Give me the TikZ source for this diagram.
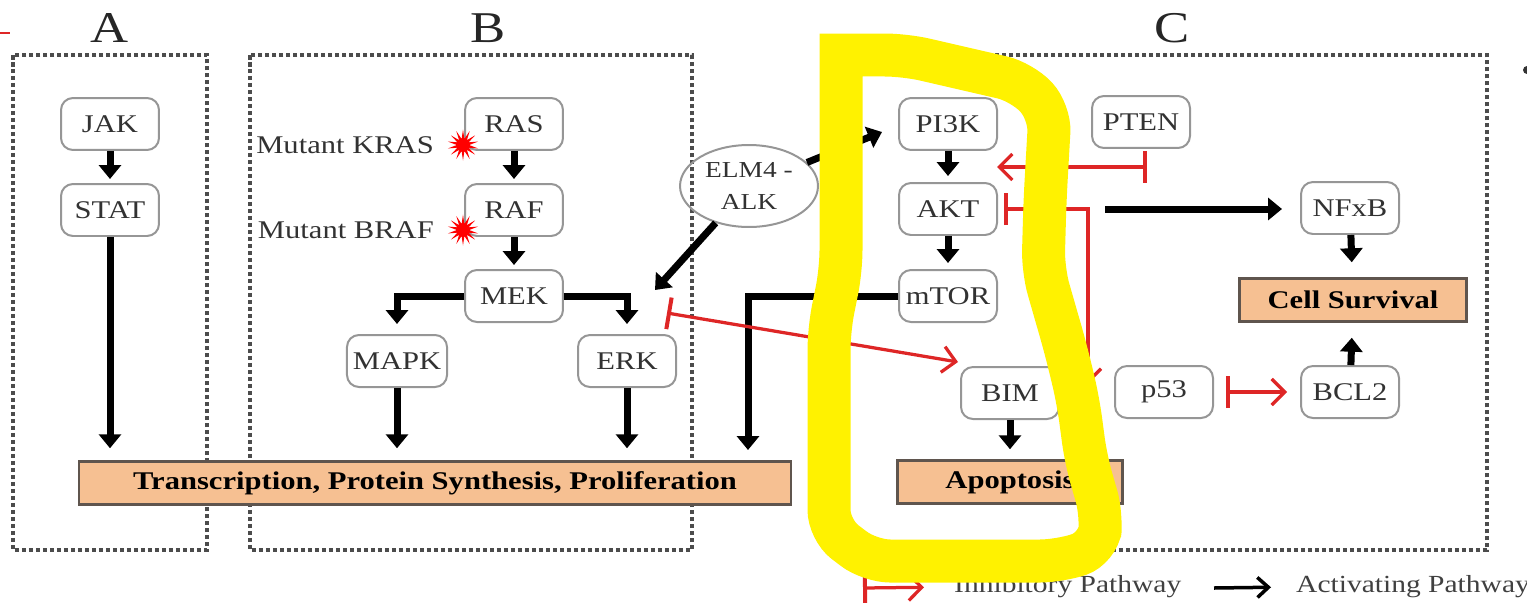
\documentclass[tikz,border=0pt]{standalone}
\usepackage{fontspec}
\setmainfont{Liberation Serif}[FakeStretch=1.2]
\usepackage{tikz}
\usetikzlibrary{arrows.meta}
\usetikzlibrary{calc}
\usetikzlibrary{shapes.geometric}
\definecolor{inhred}{RGB}{222,38,38}
\definecolor{outfill}{RGB}{246,192,146}
\definecolor{outline}{RGB}{95,85,78}
\definecolor{boxgray}{RGB}{150,150,150}
\definecolor{txtgray}{RGB}{50,50,50}

\begin{document}
\begin{tikzpicture}[x=0.02cm,y=-0.02cm,
  act/.style={line width=0.14cm,-{Triangle[length=0.28cm,width=0.44cm]},shorten >=0.08cm},
  inh/.style={draw=inhred,line width=0.065cm,{Bar[width=0.64cm,line width=0.08cm]}-{Straight Barb[length=0.26cm,width=0.52cm]}},
  prot/.style={draw=boxgray,line width=0.04cm,rounded corners=0.24cm,fill=white,minimum width=1.96cm,minimum height=1.04cm,text=txtgray,font=\fontsize{14.5}{17}\selectfont},
  outcome/.style={draw=outline,line width=0.05cm,fill=outfill,minimum height=0.86cm,font=\fontsize{14.5}{17}\selectfont\bfseries},
  panel/.style={draw=black!70,line width=0.065cm,dash pattern=on 0.09cm off 0.05cm},
  panelname/.style={font=\fontsize{25}{28}\selectfont,text=black!85},
  mut/.style={anchor=east,text=txtgray,font=\fontsize{14.5}{17}\selectfont},
  burst/.style={star,star points=14,star point ratio=2.5,fill=red,inner sep=0pt,minimum size=0.62cm},
  legendtext/.style={anchor=west,text=black!75,font=\fontsize{14}{16}\selectfont},
  hilite/.style={draw=yellow,line width=0.86cm,line cap=rect,rounded corners=0.4cm}]
\useasboundingbox(0,0)rectangle(1527,602);
% panels
\draw[panel](13,55)rectangle(207,550);
\draw[panel](250,55)rectangle(692,550);
\draw[panel](830,55)rectangle(1487,550);
\node[panelname](tA)at(110,28){A};
\node[panelname](tB)at(488,28){B};
\node[panelname](tC)at(1172,28){C};
% A
\node[prot](jak)at(110,124){JAK};
\node[prot](stat)at(110,210){STAT};
% B
\node[prot](ras)at(514,124){RAS};
\node[prot](raf)at(514,210){RAF};
\node[prot](mek)at(514,296){MEK};
\node[prot](mapk)at(397,361){MAPK};
\node[prot](erk)at(627,361){ERK};
\node[mut](kras)at(440,145){Mutant KRAS};
\node[burst](krasx)at(463,145){};
\node[mut](braf)at(440,230){Mutant BRAF};
\node[burst](brafx)at(463,230){};
\node[outcome,minimum width=14.24cm](trans)at(435,483){Transcription, Protein Synthesis, Proliferation};
\node[draw=boxgray,line width=0.04cm,ellipse,minimum width=2.76cm,minimum height=1.64cm,align=center,text=txtgray,font=\fontsize{13}{18}\selectfont,inner sep=0pt](elm)at(749,186){ELM4 -\\ALK};
% C
\node[prot](pi3k)at(948,124){PI3K};
\node[prot](akt)at(948,209){AKT};
\node[prot](mtor)at(948,296){mTOR};
\node[prot](pten)at(1141,122){PTEN};
\node[prot](nfkb)at(1350,208){NFxB};
\node[outcome,minimum width=4.54cm](surv)at(1353,300){Cell Survival};
\node[prot](bim)at(1010,393){BIM};
\node[outcome,minimum width=4.5cm](apop)at(1010,482){Apoptosis};
\node[prot](p53)at(1164,392){p53};
\node[prot](bcl2)at(1350,392){BCL2};
% free ends
\coordinate(mtordrop)at(748,462);
\coordinate(elmtip)at(655,290);
\coordinate(pi3ktip)at(882,132);
\coordinate(aktout)at(1105,209);
\coordinate(ptenbar)at(1147,167);
\coordinate(ptentip)at(997,167);
\coordinate(aktbend)at(1088,209);
\coordinate(p53tip)at(1088,384);
\coordinate(erkbar)at(667,313);
\coordinate(bimtip)at(958,362);
% activating
\draw[act](jak)--(stat);
\draw[act,shorten >=0.24cm](stat)--(stat|-trans.north);
\draw[act](ras)--(raf);
\draw[act](raf)--(mek);
\draw[act,shorten >=0.2cm](mek.west)-|(mapk.north);
\draw[act,shorten >=0.2cm](mek.east)-|(erk.north);
\draw[act,shorten >=0.24cm](mapk)--(mapk|-trans.north);
\draw[act,shorten >=0.24cm](erk)--(erk|-trans.north);
\draw[act,shorten >=0.24cm](mtor.west)-|(mtordrop);
\draw[act,shorten >=0pt](elm)--(elmtip);
\draw[act,shorten >=0pt](elm)--(pi3ktip);
\draw[act,shorten >=0.12cm](pi3k)--(akt);
\draw[act,shorten >=0.12cm](akt)--(mtor);
\draw[act,shorten >=0.36cm](aktout)--(aktout-|nfkb.west);
\draw[act,shorten >=0.3cm](nfkb)--(surv);
\draw[act,shorten >=0.3cm](bcl2)--(surv);
\draw[act,shorten >=0.2cm](bim)--(apop);
% inhibitory
\draw[inh](ptenbar)--(ptentip);
\draw[inh,shorten <=0.12cm](akt.east)--(aktbend)--(p53tip);
\draw[inh](erkbar)--(bimtip);
\draw[inh,shorten <=0.24cm,shorten >=0.26cm](p53)--(bcl2);
% legend
\node[legendtext](inhtxt)at(948,587){Inhibitory Pathway};
\node[legendtext](acttxt)at(1290,587){Activating Pathway};
\coordinate(inhstart)at(863,588);
\coordinate(actstart)at(1214,588);
\draw[inh,shorten >=0.48cm](inhstart)--(inhtxt.west);
\draw[line width=0.07cm,-{Straight Barb[length=0.22cm,width=0.4cm]},shorten >=0.38cm](actstart)--(acttxt.west);
% edge marks
\draw[inhred,line width=0.04cm](0,33)--(10,33);
\fill[black!80](1527,70)circle(0.08cm);
% highlight
\draw[hilite](841,55)--(905,55)--(1022,82)--(1050,112)--(1045,200)--(1043,270)--(1066,350)--(1078,400)--(1086,460)--(1102,515)--(1098,548)--(1060,561)--(870,561)--(829,530)--(829,330)--(841,270)--(841,55);
\end{tikzpicture}
\end{document}
